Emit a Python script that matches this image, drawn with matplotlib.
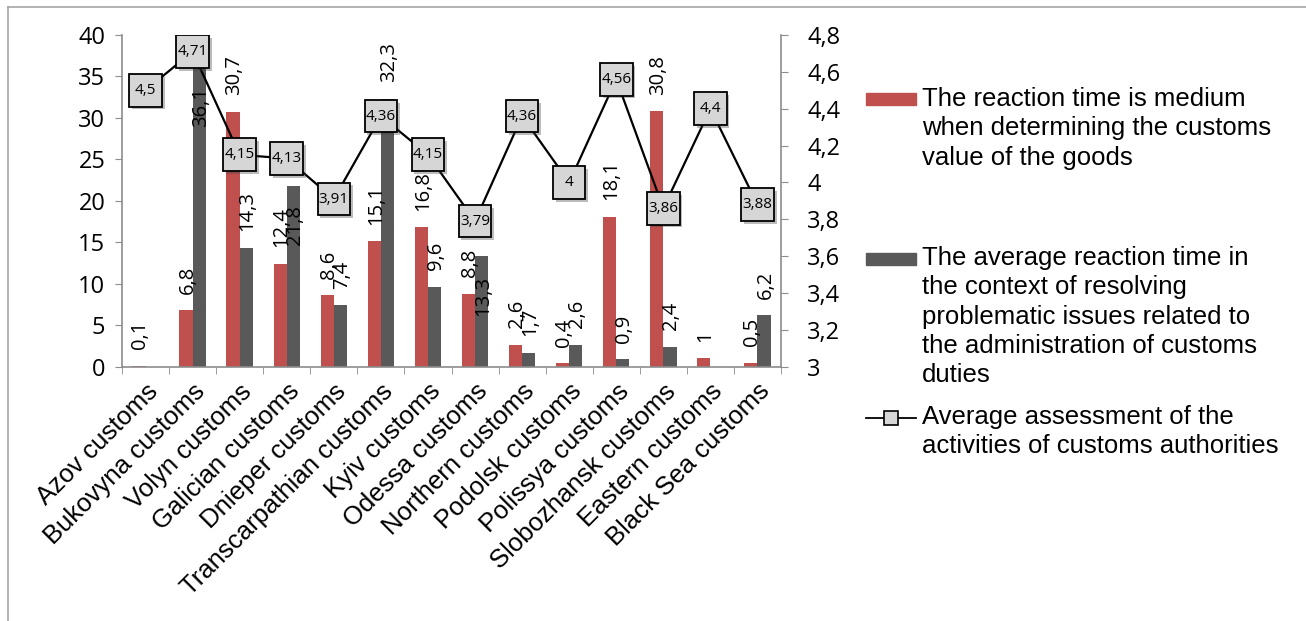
import numpy as np
import matplotlib
matplotlib.use("Agg")
from matplotlib import pyplot as plt
from matplotlib.lines import Line2D
from matplotlib.patches import Rectangle
from matplotlib.ticker import FuncFormatter
import matplotlib.patheffects as pe

categories = [
    "Azov customs", "Bukovyna customs", "Volyn customs", "Galician customs",
    "Dnieper customs", "Transcarpathian customs", "Kyiv customs",
    "Odessa customs", "Northern customs", "Podolsk customs",
    "Polissya customs", "Slobozhansk customs", "Eastern customs",
    "Black Sea customs",
]
medium_time = [0.1, 6.8, 30.7, 12.4, 8.6, 15.1, 16.8, 8.8, 2.6, 0.4, 18.1, 30.8, 1, 0.5]
average_time = [np.nan, 36.1, 14.3, 21.8, 7.4, 32.3, 9.6, 13.3, 1.7, 2.6, 0.9, 2.4, np.nan, 6.2]
assessment = [4.5, 4.71, 4.15, 4.13, 3.91, 4.36, 4.15, 3.79, 4.36, 4.0, 4.56, 3.86, 4.4, 3.88]
assessment_labels = ["4,5", "4,71", "4,15", "4,13", "3,91", "4,36", "4,15",
                     "3,79", "4,36", "4", "4,56", "3,86", "4,4", "3,88"]
# labels of the dark bars that Excel pushed inside the bar
inside_labels = [1, 3, 7]

legend_texts = [
    "The reaction time is medium\nwhen determining the customs\nvalue of the goods",
    "The average reaction time in\nthe context of resolving\nproblematic issues related to\nthe administration of customs\nduties",
    "Average assessment of the\nactivities of customs authorities",
]

RED = "#C0504D"
DARK = "#595959"
AXIS = "#8c8c8c"
W, H = 1306, 621


def comma(v):
    return f"{round(v, 2):g}".replace(".", ",")


def px(x, y):
    return x / W, 1 - y / H


fig = plt.figure(figsize=(W / 100, H / 100), dpi=100)
ax = fig.add_axes([122 / W, 1 - 366.7 / H, (781 - 122) / W, (366.7 - 35) / H])

x = np.arange(len(categories))
w = 0.28
ax.bar(x - w / 2, medium_time, w, color=RED, zorder=2)
ax.bar(x + w / 2, average_time, w, color=DARK, zorder=2)
ax.set_xlim(-0.5, len(categories) - 0.5)
ax.set_ylim(0, 40)
ax.set_yticks(np.arange(0, 41, 5))

for series, shift in ((medium_time, -w / 2), (average_time, w / 2)):
    for i, v in enumerate(series):
        if np.isnan(v):
            continue
        inside = series is average_time and i in inside_labels
        ax.annotate(comma(v), (x[i] + shift, v),
                    xytext=(1, -14 if inside else 12), textcoords="offset points",
                    rotation=90, ha="center", va="top" if inside else "bottom",
                    fontsize=14.5, family="Open Sans", zorder=3)

ax.set_xticks(x)
ax.set_xticklabels(categories, rotation=45, ha="right", va="top",
                   rotation_mode="anchor", fontsize=18.5, family="Liberation Sans")
ax.set_xticks(np.arange(-0.5, len(categories)), minor=True)
ax.tick_params(axis="x", which="major", length=0, pad=9)
ax.tick_params(axis="x", which="minor", length=5, color=AXIS, direction="out")
ax.tick_params(axis="y", length=5, color=AXIS, pad=7, labelsize=17)
for lab in ax.get_yticklabels():
    lab.set_family("Open Sans")
for s in ("top", "right"):
    ax.spines[s].set_visible(False)
for s in ("left", "bottom"):
    ax.spines[s].set_color(AXIS)
    ax.spines[s].set_linewidth(1.2)

ax2 = ax.twinx()
ax2.set_ylim(3, 4.8)
ax2.set_yticks(np.arange(3, 4.81, 0.2))
ax2.yaxis.set_major_formatter(FuncFormatter(lambda v, p: comma(v)))
ax2.tick_params(axis="y", length=5, color=AXIS, pad=14, labelsize=17)
for lab in ax2.get_yticklabels():
    lab.set_family("Open Sans")
for s in ("top", "left", "bottom"):
    ax2.spines[s].set_visible(False)
ax2.spines["right"].set_color(AXIS)
ax2.spines["right"].set_linewidth(1.2)

ax2.plot(x, assessment, color="black", lw=1.6, zorder=2)
ax2.plot(x, assessment, ls="none", marker="s", ms=23.5, mfc="#d6d6d6", mec="black",
         mew=1.3, zorder=3,
         path_effects=[pe.SimplePatchShadow(offset=(2, -2), alpha=0.35), pe.Normal()])
for i, lab in enumerate(assessment_labels):
    ax2.text(x[i], assessment[i], lab, ha="center", va="center", fontsize=11,
             family="Open Sans", zorder=4)

# legend drawn by hand to match the spacing of the original
x0, x1 = px(866, 0)[0], px(916, 0)[0]
fig.add_artist(Rectangle(px(866, 105), 50 / W, 12 / H, color=RED, transform=fig.transFigure))
fig.add_artist(Rectangle(px(866, 265), 50 / W, 12 / H, color=DARK, transform=fig.transFigure))
fig.add_artist(Line2D([x0, x1], [px(0, 418)[1]] * 2, color="black", lw=1.3,
                      transform=fig.transFigure))
fig.add_artist(Line2D([(x0 + x1) / 2], [px(0, 418)[1]], marker="s", ms=10,
                      mfc="#d6d6d6", mec="black", mew=1.2, transform=fig.transFigure))
for txt, ytop in zip(legend_texts, (87, 246, 405)):
    fig.text(*px(922, ytop), txt, ha="left", va="top", fontsize=18.5,
             family="Liberation Sans", linespacing=1.28)

# chart area border
fig.add_artist(Line2D([px(8, 0)[0]] * 2, [0, px(0, 7)[1]], color="#a6a6a6", lw=1.2,
                      transform=fig.transFigure))
fig.add_artist(Line2D([px(8, 0)[0], 1], [px(0, 7)[1]] * 2, color="#a6a6a6", lw=1.2,
                      transform=fig.transFigure))

fig.savefig("out.png", dpi=100)
